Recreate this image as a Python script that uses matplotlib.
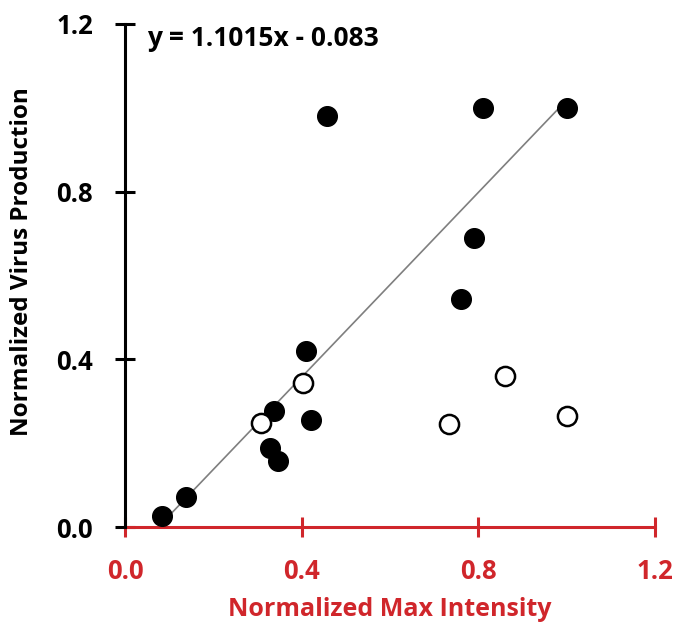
import matplotlib
matplotlib.use("Agg")
import matplotlib.pyplot as plt
import numpy as np

plt.rcParams['font.family'] = ['Open Sans', 'DejaVu Sans']

# Filled points
filled_x = [1.0, 0.81, 0.457, 0.79, 0.76, 0.41, 0.42, 0.337, 0.328, 0.346, 0.138, 0.084]
filled_y = [1.0, 1.0, 0.98, 0.69, 0.544, 0.42, 0.255, 0.277, 0.189, 0.158, 0.072, 0.026]
# Open points
open_x = [0.403, 0.308, 0.86, 0.733, 1.0]
open_y = [0.344, 0.248, 0.36, 0.246, 0.265]

slope, intercept = 1.1015, -0.083
equation = "y = 1.1015x - 0.083"
xticks = [0.0, 0.4, 0.8, 1.2]
yticks = [0.0, 0.4, 0.8, 1.2]
red = '#d0262b'

fig = plt.figure(figsize=(6.75, 6.24), dpi=100)
ax = fig.add_axes([125/675, 97/624, 530/675, 503/624])

all_x = filled_x + open_x
xl = np.array([min(all_x), max(all_x)])
ax.plot(xl, slope * xl + intercept, color='#7f7f7f', lw=1.2, zorder=1)

ax.scatter(filled_x, filled_y, s=200, c='black', zorder=3)
ax.scatter(open_x, open_y, s=190, facecolors='white', edgecolors='black', linewidths=1.8, zorder=3)

ax.set_xlim(0, 1.2)
ax.set_ylim(0, 1.2)
ax.set_xticks(xticks)
ax.set_yticks(yticks)
ax.set_xticklabels([f"{t:.1f}" for t in xticks], fontsize=18.5, fontweight='bold', color=red)
ax.set_yticklabels([f"{t:.1f}" for t in yticks], fontsize=18.5, fontweight='bold', color='black')

for s in ['top', 'right']:
    ax.spines[s].set_visible(False)
ax.spines['left'].set_linewidth(2.2)
ax.spines['left'].set_color('black')
ax.spines['bottom'].set_linewidth(2.2)
ax.spines['bottom'].set_color(red)
ax.spines['bottom'].set_zorder(2)
ax.spines['left'].set_zorder(2.5)

ax.tick_params(axis='x', direction='inout', length=14, width=2.2, color=red, pad=15)
ax.tick_params(axis='y', direction='inout', length=14, width=2.2, color='black', pad=16)

ax.set_xlabel("Normalized Max Intensity", fontsize=18, fontweight='bold', color=red, labelpad=9)
ax.set_ylabel("Normalized Virus Production", fontsize=17.5, fontweight='bold', color='black')
ax.yaxis.set_label_coords(-0.172, 0.527)

ax.text(0.05, 1.165, equation, fontsize=19, fontweight='bold', color='black', ha='left', va='center')

fig.savefig("out.png", dpi=100, facecolor='white')
